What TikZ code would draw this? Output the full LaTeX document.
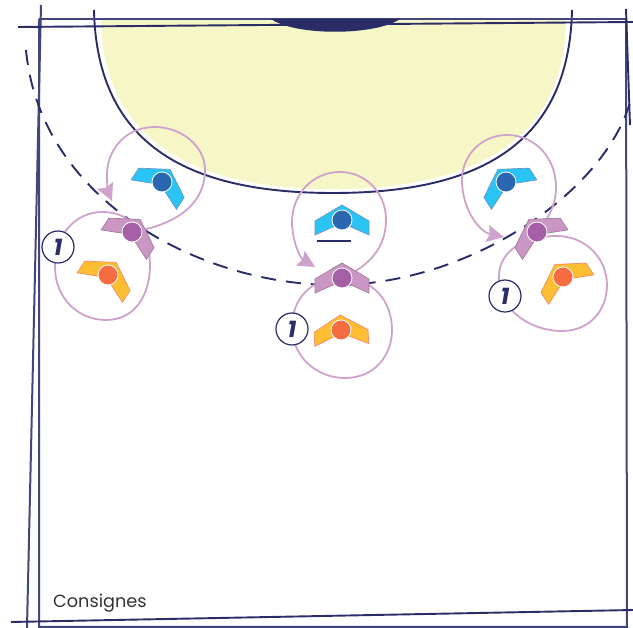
\documentclass[tikz,border=0pt]{standalone}
\usepackage{fontspec}
\setmainfont{Poppins}
\definecolor{navy}{HTML}{2A2C68}
\definecolor{frameblue}{HTML}{43467D}
\definecolor{zoneyellow}{HTML}{F6F6C6}
\definecolor{loopink}{HTML}{CFA2CC}
\definecolor{armblue}{HTML}{2AC4F4}
\definecolor{dotblue}{HTML}{2B66B0}
\definecolor{armpurple}{HTML}{CA97C4}
\definecolor{dotpurple}{HTML}{A45FA6}
\definecolor{armorange}{HTML}{FDBE34}
\definecolor{dotorange}{HTML}{F46C3F}
\usetikzlibrary{arrows.meta}
\tikzset{
  pitchline/.style={draw=navy, line width=1.9pt},
  frameline/.style={draw=frameblue, line width=2pt},
  loopline/.style={draw=loopink, line width=1.8pt},
  looparrow/.style={loopline, -{Stealth[length=17pt,width=17pt,inset=2.5pt]}},
  playerdot/.style={circle, draw=white, line width=0.8pt, minimum size=20pt, inner sep=0pt},
  badge/.style={circle, draw=navy, fill=white, line width=1.2pt, minimum size=32pt, inner sep=0pt, text=navy, font=\bfseries\itshape\fontsize{23}{23}\selectfont},
  chevron/.pic={\path[pic actions] (0,-15) -- (27,1) -- (27,15) -- (0,3) -- (-27,15) -- (-27,1) -- cycle;},
  armb/.style={fill=armblue, draw=dotblue!70, line width=0.7pt},
  armp/.style={fill=armpurple, draw=armpurple!80!black, line width=0.7pt},
  armo/.style={fill=armorange, draw=dotorange!80, line width=0.7pt}
}
\begin{document}
\begin{tikzpicture}[x=1pt,y=-1pt]
\useasboundingbox (0,0) rectangle (633,628);
% zone and frame
\fill[zoneyellow] (101,20) .. controls (104,145) and (200,189) .. (333,189) .. controls (466,189) and (565,145) .. (566,20) -- cycle;
\draw[pitchline] (94,10) .. controls (97,150) and (195,193) .. (333,193) .. controls (471,193) and (569,150) .. (572,10);
\draw[frameline] (39,19) -- (626,19);
\draw[frameline] (39,19) -- (39,627) -- (627,627) -- (626,19);
\draw[frameline] (41,5) -- (27,628);
\draw[pitchline] (18,27) -- (633,22);
\draw[pitchline] (11,622) -- (633,610);
\draw[pitchline] (626,9) -- (630,125);
\fill[navy] (271,19) .. controls (295,36) and (375,36) .. (400,19) -- cycle;
% nine metre line
\draw[pitchline, dash pattern=on 15pt off 10pt] (26,50) .. controls (40,200) and (200,285) .. (335,285) .. controls (470,285) and (610,190) .. (632,95);
% left group
\coordinate (pl) at (132,232);
\draw[loopline] (102.5,212) .. controls (75,212) and (55,235) .. (55,267) .. controls (55,298) and (78,320) .. (106,320) .. controls (135,320) and (150,295) .. (150,265) .. controls (150,240) and (135,212) .. (102.5,212);
\draw[looparrow] (pl) .. controls (175,225) and (205,205) .. (205,170) .. controls (205,145) and (180,127) .. (155,127) .. controls (125,127) and (107,150) .. (107,175) .. controls (107,185) and (108,192) .. (112,201);
\pic[armb, rotate=-33] at (162,182) {chevron};
\pic[armo, rotate=-33] at (108,275) {chevron};
\pic[armp, rotate=-33] at (pl) {chevron};
\node[playerdot, fill=dotblue] (bleft) at (162,182) {};
\node[playerdot, fill=dotorange] (oleft) at (108,275) {};
\node[playerdot, fill=dotpurple] (pleft) at (pl) {};
\node[badge] (nleft) at (58,247) {1};
% middle group
\coordinate (pm) at (342,278);
\draw[loopline] (342,278) .. controls (310,278) and (292,300) .. (292,327) .. controls (292,355) and (315,378) .. (345,378) .. controls (375,378) and (392,355) .. (392,330) .. controls (392,300) and (372,278) .. (342,278);
\draw[looparrow] (pm) .. controls (372,265) and (386,245) .. (386,220) .. controls (386,192) and (365,172) .. (340,172) .. controls (312,172) and (292,195) .. (292,222) .. controls (292,240) and (300,258) .. (315,267);
\pic[armb, rotate=0] at (342,220) {chevron};
\pic[armo, rotate=3] at (341,330) {chevron};
\pic[armp, rotate=0] at (pm) {chevron};
\node[playerdot, fill=dotblue] (bmid) at (342,220) {};
\node[playerdot, fill=dotorange] (omid) at (341,330) {};
\node[playerdot, fill=dotpurple] (pmid) at (pm) {};
\draw[pitchline] (317,241) -- (351,241);
\node[badge] (nmid) at (292,329) {1};
% right group
\coordinate (pr) at (537,232);
\draw[loopline] (557,236) .. controls (525,236) and (499,250) .. (499,277) .. controls (499,310) and (530,331) .. (562,331) .. controls (590,331) and (607,310) .. (607,285) .. controls (607,258) and (585,236) .. (557,236);
\draw[looparrow] (pr) .. controls (552,215) and (556,200) .. (556,187) .. controls (556,158) and (535,135) .. (507,135) .. controls (482,135) and (462,155) .. (462,180) .. controls (462,210) and (480,232) .. (504,237);
\pic[armb, rotate=33] at (506,182) {chevron};
\pic[armo, rotate=33] at (563,277) {chevron};
\pic[armp, rotate=33] at (pr) {chevron};
\node[playerdot, fill=dotblue] (bright) at (506,182) {};
\node[playerdot, fill=dotorange] (oright) at (563,277) {};
\node[playerdot, fill=dotpurple] (pright) at (pr) {};
\node[badge] (nright) at (505,296) {1};
\node[text=black!80, font=\fontsize{17.7}{18}\selectfont, anchor=west, inner sep=0pt] (notes) at (53,603) {Consignes};
\end{tikzpicture}
\end{document}
